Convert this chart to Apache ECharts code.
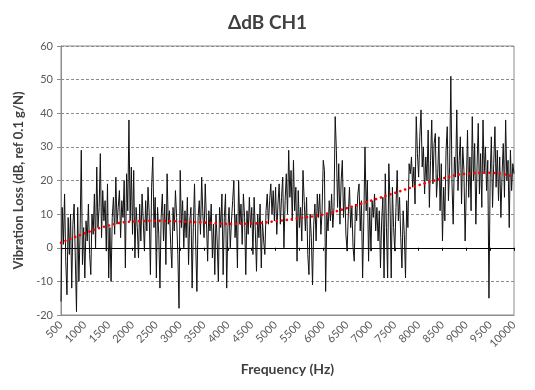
<!DOCTYPE html>
<html>
<head>
<meta charset="utf-8">
<script src="https://cdn.jsdelivr.net/npm/echarts@6/dist/echarts.min.js"></script>
<style>html,body{margin:0;padding:0;background:#fff}#c{width:535px;height:390px}</style>
</head>
<body>
<div id="c"></div>
<script>
// Sampling grid of the measured curve (Hz)
const FREQ_START = 500;
const FREQ_STEP = 25;

const deltaDb = [
  // 500 - 975
  -16, 12, 1, 16, -4, -14, 9, -2, 10, -12, 7, 13, -3, -19, 12, -10, 4, 29, -5, 6,
  // 1000 - 1475
  -9, 8, 2, 13, -2, -8, 10, 4, 16, 0, 24, 6, 12, 28, 3, 17, 8, 14, -1, 19,
  // 1500 - 1975
  -9, 6, -10, 9, 15, 4, 21, 7, 12, 17, 3, 14, 9, 20, -6, 22, 11, 38, 8, 24,
  // 2000 - 2475
  4, 23, -3, 12, 6, -3, 13, 2, 16, 8, -1, 14, 5, 18, 10, -8, 18, 27, 6, 15,
  // 2500 - 2975
  -9, 12, 4, -12, 9, 16, 2, 13, -5, 22, 7, 11, 1, -6, 12, 5, 17, 9, -2, -18,
  // 3000 - 3475
  23, 6, 14, 0, 11, 3, 15, -5, 8, 12, -12, 6, 19, 1, -13, 9, 14, 4, 21, 10,
  // 3500 - 3975
  3, 19, 8, -4, 11, 5, 13, -3, 7, -8, 10, 2, -10, 12, 6, 16, -8, 9, 16, -12,
  // 4000 - 4475
  6, 12, 0, 8, 14, 20, 3, 10, -6, 20, 7, 13, 1, 16, 9, -8, 11, 4, 15, 6,
  // 4500 - 4975
  12, -2, 15, 5, -7, 10, 3, 13, -6, 8, 2, -2, 11, 16, 7, 14, 19, 10, 17, 8,
  // 5000 - 5475
  18, 4, 13, 19, 7, 15, 21, 0, 14, 22, 10, 29, 15, 23, 8, 26, 11, 18, -4, 17,
  // 5500 - 5975
  6, 12, 2, 23, 14, 5, 15, -2, -8, 10, 3, -11, 7, 13, 2, 16, 9, 16, 4, 11,
  // 6000 - 6475
  26, 23, -13, 10, 5, 14, 8, 16, 6, 12, 39, 29, 12, 25, 7, 20, 26, 9, 18, 4,
  // 6500 - 6975
  -1, 10, 18, 6, 12, 0, -4, 13, 8, 16, 19, 5, 14, -9, 8, 30, 11, 20, -4, 12,
  // 7000 - 7475
  -1, 14, 9, 16, 5, 12, 2, 11, -6, 8, 15, -9, 22, 6, -9, 25, 13, -9, 18, 6,
  // 7500 - 7975
  -1, 12, 23, 8, 15, 3, -6, 11, 4, -9, 14, 6, 25, 22, 27, 18, 24, 13, 39, 28,
  // 8000 - 8475
  21, 33, 41, 24, 30, 16, 27, 20, 35, 12, 26, 38, 19, 31, 34, 15, 22, 33, 11, 25,
  // 8500 - 8975
  2, 18, 8, 29, 36, 14, 24, 51, 19, 7, 27, 21, 41, 17, 26, 33, 13, 30, 23, 2,
  // 9000 - 9475
  18, 35, 15, 27, 11, 39, 20, 31, 7, 24, 37, 16, 28, 12, 38, 22, 30, 17, 26, -15,
  // 9500 - 9975
  21, 33, 12, 25, 36, 18, 29, 14, 27, 9, 22, 31, 15, 38, 20, 26, 6, 29, 17, 25,
  // 10000
  22
];

// Polynomial trend line (red dotted), read at 500 Hz steps
const trendFreqs = [500, 1000, 1500, 2000, 2500, 3000, 3500, 4000, 4500, 5000,
                    5500, 6000, 6500, 7000, 7500, 8000, 8500, 9000, 9500, 10000];
const trendValues = [1.5, 4.3, 6.6, 7.8, 8.0, 7.8, 7.5, 7.1, 7.2, 7.9,
                     8.8, 9.9, 11.8, 14.0, 16.3, 18.6, 20.6, 22.0, 22.3, 21.1];

// Axis ticks
const xTicks = [500, 1000, 1500, 2000, 2500, 3000, 3500, 4000, 4500, 5000,
                5500, 6000, 6500, 7000, 7500, 8000, 8500, 9000, 9500, 10000];
const yTicks = [-20, -10, 0, 10, 20, 30, 40, 50, 60];

const measured = deltaDb.map((v, i) => [FREQ_START + i * FREQ_STEP, v]);
const trend = trendFreqs.map((f, i) => [f, trendValues[i]]);

const FONT = 'Lato, "Open Sans", "Noto Sans", sans-serif';
const chart = echarts.init(document.getElementById('c'), null, {renderer: 'canvas'});
chart.setOption({
  animation: false,
  backgroundColor: '#ffffff',
  title: {
    text: 'ΔdB CH1',
    left: 'center',
    top: 8,
    textStyle: {fontFamily: FONT, fontSize: 19, fontWeight: 'bold', color: '#404040'}
  },
  grid: {
    left: 61, right: 21, top: 46, bottom: 75,
    show: true, borderColor: '#8c8c8c', borderWidth: 1, backgroundColor: 'transparent'
  },
  xAxis: [{
    type: 'value',
    min: xTicks[0], max: xTicks[xTicks.length - 1], interval: 500,
    position: 'bottom',
    name: 'Frequency (Hz)',
    nameLocation: 'middle',
    nameGap: 47,
    nameTextStyle: {fontFamily: FONT, fontSize: 14, fontWeight: 'bold', color: '#404040'},
    axisLine: {show: true, onZero: false, lineStyle: {color: '#8c8c8c', width: 1}},
    axisTick: {show: false},
    axisLabel: {rotate: 45, margin: 8, fontFamily: FONT, fontSize: 11, color: '#595959',
                formatter: v => String(v)},
    splitLine: {show: false}
  }, {
    type: 'value',
    min: xTicks[0], max: xTicks[xTicks.length - 1], interval: 500,
    position: 'bottom',
    axisLine: {show: true, onZero: true, lineStyle: {color: '#000000', width: 1}},
    axisTick: {show: true, length: 3, inside: false, lineStyle: {color: '#000000'}},
    axisLabel: {show: false},
    splitLine: {show: false}
  }],
  yAxis: {
    type: 'value',
    min: yTicks[0], max: yTicks[yTicks.length - 1], interval: 10,
    name: 'Vibration Loss (dB, ref 0.1 g/N)',
    nameLocation: 'middle',
    nameGap: 36,
    nameTextStyle: {fontFamily: FONT, fontSize: 13, fontWeight: 'bold', color: '#404040'},
    axisLine: {show: true, lineStyle: {color: '#8c8c8c', width: 1}},
    axisTick: {show: true, length: 4, lineStyle: {color: '#8c8c8c'}},
    axisLabel: {margin: 8, fontFamily: FONT, fontSize: 11, color: '#595959'},
    splitLine: {show: true, lineStyle: {color: '#8c8c8c', width: 1, type: [3, 2]}}
  },
  series: [{
    type: 'line',
    xAxisIndex: 0,
    data: measured,
    showSymbol: false,
    symbol: 'none',
    lineStyle: {color: '#111111', width: 1},
    z: 2
  }, {
    type: 'line',
    xAxisIndex: 0,
    data: trend,
    smooth: true,
    showSymbol: false,
    symbol: 'none',
    lineStyle: {color: '#ff0000', width: 2.6, type: [0.1, 5], cap: 'round'},
    z: 3
  }]
});
</script>
</body>
</html>
